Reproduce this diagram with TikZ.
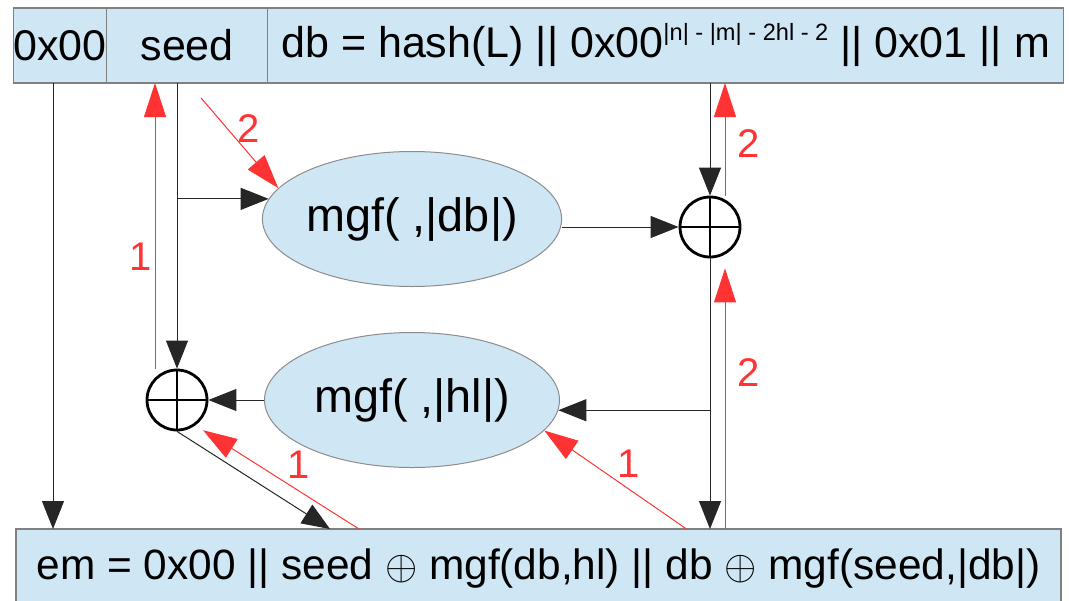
\documentclass[tikz,border=0pt]{standalone}
\usepackage{fontspec}
\setmainfont{Liberation Sans}
\usetikzlibrary{shapes,arrows.meta,positioning}
\definecolor{cellblue}{RGB}{207,231,245}
\definecolor{stepred}{RGB}{255,51,51}
\newcommand{\supsize}{\fontsize{11.8}{13}\selectfont}
\tikzstyle{cell} = [rectangle, draw=black!50, fill=cellblue, line width=0.6pt,
    minimum height=37.5pt, inner sep=0pt, outer sep=0pt, font=\fontsize{21.5}{24}\selectfont]
\tikzstyle{mgf} = [ellipse, draw=black!45, fill=cellblue, line width=0.5pt,
    minimum width=147.5pt, minimum height=67.5pt, inner sep=0pt, font=\fontsize{23.4}{26}\selectfont]
\tikzstyle{xorgate} = [circle, draw, line width=1.4pt, minimum size=30pt, inner sep=0pt,
    path picture={\draw[line width=1.4pt] (path picture bounding box.north) -- (path picture bounding box.south)
        (path picture bounding box.west) -- (path picture bounding box.east);}]
\tikzstyle{flow} = [draw=black!85, line width=0.5pt, -{Triangle[length=14pt,width=11pt]}]
\tikzstyle{redflow} = [draw=stepred, line width=0.5pt, -{Triangle[length=17pt,width=11pt]}]
\tikzstyle{steplabel} = [text=stepred, inner sep=1pt, font=\fontsize{20}{22}\selectfont]

\begin{document}
\begin{tikzpicture}[x=0.5pt, y=-0.5pt]
    \useasboundingbox (0,0) rectangle (1069,600);

    % message blocks
    \node[cell, minimum width=44pt] (zero) at (60,45.5) {0x00};
    \node[cell, minimum width=80.5pt, right=0pt of zero] (seed) {seed};
    \node[cell, minimum width=398pt, right=0pt of seed] (db) {db = hash(L) || 0x00\raisebox{8.5pt}{\supsize |n| - |m| - 2hl - 2} || 0x01 || m};
    \node[cell, minimum width=522.5pt, minimum height=40pt, font=\fontsize{21.2}{24}\selectfont] (em) at (538.5,569)
        {em = 0x00 || seed $\oplus$ mgf(db,hl) || db $\oplus$ mgf(seed,|db|)};

    \node[mgf] (mgfdb) at (412,219) {mgf( ,|db|)};
    \node[mgf] (mgfhl) at (412,400) {mgf( ,|hl|)};

    \node[xorgate] (xorseed) at (177,400) {};
    \node[xorgate] (xordb) at (710,227) {};

    % black data paths
    \path[flow] ([xshift=-3.5pt]zero.south) -- ([xshift=-3.5pt]zero.south |- em.north);
    \path[flow] (xorseed.north |- seed.south) -- (xorseed.north);
    \path[flow] (xorseed.north |- mgfdb.172) -- (mgfdb.172);
    \path[flow] (mgfdb.east |- xordb.west) -- (xordb.west);
    \path[flow] (xordb.north |- db.south) -- (xordb.north);
    \path[flow] (xordb.south) -- (xordb.south |- em.north);
    \path[flow] (xordb.south |- mgfhl.-4) -- (mgfhl.-4);
    \path[flow] (mgfhl.west) -- (xorseed.east);
    \path[flow] (xorseed.south) -- ([xshift=-104.25pt]em.north);

    % red steps
    \path[redflow] ([xshift=-11pt]xorseed.north) -- ([xshift=-11pt]xorseed.north |- seed.south)
        node[steplabel, pos=0.39, left=0.5pt] {1};
    \path[redflow] ([shift={(7pt,-7.5pt)}]seed.south) -- (mgfdb.167)
        node[steplabel, pos=0.34, right=4pt] {2};
    \path[redflow] ([xshift=7.5pt]xordb.north) -- ([xshift=7.5pt]xordb.north |- db.south)
        node[steplabel, pos=0.46, right=5pt] {2};
    \path[redflow] ([xshift=7.5pt]xordb.south |- em.north) -- ([xshift=7.5pt,yshift=-5pt]xordb.south)
        node[steplabel, pos=0.6, right=5pt] {2};
    \path[redflow] ([xshift=74pt]em.north) -- (mgfhl.-13)
        node[steplabel, pos=0.5, above right=0pt] {1};
    \path[redflow, shorten >=4.5pt] ([xshift=-89.75pt]em.north) -- (xorseed.-54)
        node[steplabel, pos=0.37, above=5pt] {1};
\end{tikzpicture}
\end{document}
